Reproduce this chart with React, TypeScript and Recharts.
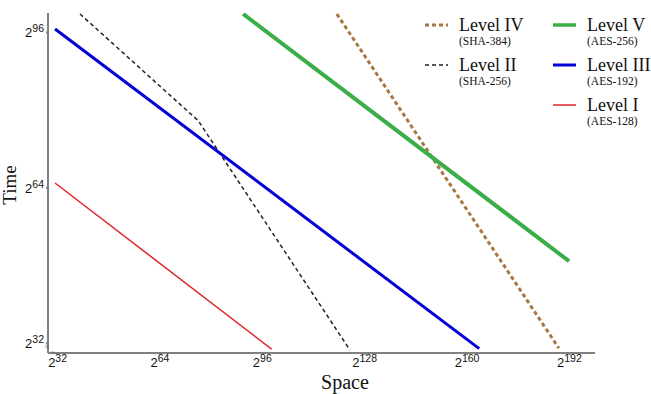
import { LineChart, Line, XAxis, YAxis } from 'recharts'

// exponents (log2)
const levelISpace = [31.2, 98.9]
const levelITime = [65, 30.8]
const levelIISpace = [39, 76, 123.4]
const levelIITime = [99.8, 77.8, 30.6]
const levelIIISpace = [31.2, 163.8]
const levelIIITime = [96.7, 30.9]
const levelIVSpace = [119.3, 188.7]
const levelIVTime = [99.8, 31]
const levelVSpace = [90, 191.9]
const levelVTime = [99.8, 48.9]

const xTicks = [32, 64, 96, 128, 160, 192]
const yTicks = [32, 64, 96]

const toPoints = (xs: number[], ys: number[]) => xs.map((x, i) => ({ x, y: ys[i] }))

const series = [
  { key: 'IV', name: 'Level IV', sub: '(SHA-384)', color: '#a8773f', width: 3, dash: '4 3', data: toPoints(levelIVSpace, levelIVTime) },
  { key: 'II', name: 'Level II', sub: '(SHA-256)', color: '#222222', width: 1.5, dash: '4 3', data: toPoints(levelIISpace, levelIITime) },
  { key: 'V', name: 'Level V', sub: '(AES-256)', color: '#3cae49', width: 4, dash: undefined, data: toPoints(levelVSpace, levelVTime) },
  { key: 'III', name: 'Level III', sub: '(AES-192)', color: '#0000d8', width: 3, dash: undefined, data: toPoints(levelIIISpace, levelIIITime) },
  { key: 'I', name: 'Level I', sub: '(AES-128)', color: '#e0232a', width: 1.5, dash: undefined, data: toPoints(levelISpace, levelITime) },
]

const legendCols = [['IV', 'II'], ['V', 'III', 'I']]

const SERIF = '"Liberation Serif", "Times New Roman", serif'
const SANS = '"Liberation Sans", Arial, sans-serif'
const AXIS = '#808080'

function XTick({ x, y, payload }: any) {
  return (
    <text x={x} y={y} dy={10} textAnchor="middle" fontFamily={SANS} fill="#111">
      <tspan fontSize={13}>2</tspan>
      <tspan fontSize={10.5} dy={-5}>{payload.value}</tspan>
    </text>
  )
}

function YTick({ x, y, payload }: any) {
  return (
    <text x={x} y={y} dy={5} textAnchor="end" fontFamily={SANS} fill="#111">
      <tspan fontSize={13}>2</tspan>
      <tspan fontSize={10.5} dy={-5}>{payload.value}</tspan>
    </text>
  )
}

function TimeLabel() {
  return (
    <g>
      <text x={16} y={185} transform="rotate(-90, 16, 185)" textAnchor="middle" fontFamily={SERIF} fontSize={19} fill="#111">
        Time
      </text>
      <text x={47} y={349} textAnchor="middle" fontFamily={SANS} fontSize={7} fill="#555">≈</text>
      <text x={53} y={355} textAnchor="middle" fontFamily={SANS} fontSize={7} fill="#555">≈</text>
    </g>
  )
}

function SpaceLabel() {
  return (
    <text x={345} y={389} textAnchor="middle" fontFamily={SERIF} fontSize={20} fill="#111">
      Space
    </text>
  )
}

function LegendBox() {
  return (
    <svg width={231} height={140} style={{ position: 'absolute', left: 420, top: 0 }}>
      {legendCols.map((col, ci) =>
        col.map((k, ri) => {
          const s = series.find((d) => d.key === k)!
          const x0 = ci * 128 + 5
          const yc = 25 + ri * 40
          return (
            <g key={k}>
              <line x1={x0} x2={x0 + 23} y1={yc} y2={yc} stroke={s.color} strokeWidth={Math.min(s.width, 3.5)} strokeDasharray={s.dash} />
              <text x={x0 + 34} y={yc + 6} fontFamily={SERIF} fontSize={18} fill="#111">{s.name}</text>
              <text x={x0 + 34} y={yc + 20} fontFamily={SERIF} fontSize={11.5} fill="#111">{s.sub}</text>
            </g>
          )
        })
      )}
    </svg>
  )
}

export default function App() {
  return (
    <div style={{ position: 'absolute', left: 0, top: 0, width: 651, height: 394, background: '#fff' }}>
      <LineChart width={651} height={394} margin={{ top: 13, right: 56, bottom: 0, left: 0 }}>
        <XAxis
          type="number"
          dataKey="x"
          domain={[29, 200]}
          ticks={xTicks}
          allowDataOverflow
          height={41}
          stroke={AXIS}
          strokeWidth={2}
          tickSize={2}
          tickMargin={2}
          tick={<XTick />}
          label={<SpaceLabel />}
        />
        <YAxis
          type="number"
          dataKey="y"
          domain={[30, 100]}
          ticks={yTicks}
          allowDataOverflow
          width={48}
          stroke={AXIS}
          strokeWidth={2}
          tickSize={2}
          tickMargin={2}
          tick={<YTick />}
          label={<TimeLabel />}
        />
        {series.map((s) => (
          <Line
            key={s.key}
            data={s.data}
            dataKey="y"
            name={s.name}
            type="linear"
            stroke={s.color}
            strokeWidth={s.width}
            strokeDasharray={s.dash}
            dot={false}
            activeDot={false}
            isAnimationActive={false}
          />
        ))}
      </LineChart>
      <LegendBox />
    </div>
  )
}
